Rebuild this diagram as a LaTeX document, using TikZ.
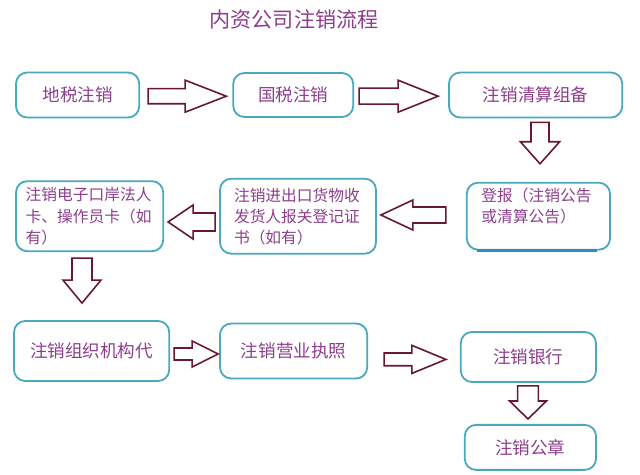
\documentclass[tikz,border=0pt]{standalone}
\usepackage{fontspec}
\newfontfamily\cjk{Noto Sans CJK SC}
\usetikzlibrary{calc}
\definecolor{boxline}{RGB}{72,168,188}
\definecolor{boxbar}{RGB}{45,140,192}
\definecolor{txt}{RGB}{140,62,140}
\definecolor{arrline}{RGB}{105,25,45}

\begin{document}
\begin{tikzpicture}[line width=0.45mm,
  box/.style={draw=boxline, rounded corners=0.28cm, text=txt, inner sep=0pt,
    font=\cjk\fontsize{12.5}{15}\selectfont},
  small/.style={font=\cjk\fontsize{11.2}{15}\selectfont, align=left},
  blockarrow/.style n args={3}{draw=arrline, line width=0.4mm, fill=white,
    to path={($(\tikztostart)!#1!-90:(\tikztotarget)$)
      -- ($(\tikztotarget)!#3!(\tikztostart)!#1!90:(\tikztostart)$)
      -- ($(\tikztotarget)!#3!(\tikztostart)!#2!90:(\tikztostart)$)
      -- (\tikztotarget)
      -- ($(\tikztotarget)!#3!(\tikztostart)!#2!-90:(\tikztostart)$)
      -- ($(\tikztotarget)!#3!(\tikztostart)!#1!-90:(\tikztostart)$)
      -- ($(\tikztostart)!#1!90:(\tikztotarget)$) -- cycle}}]
  \useasboundingbox (0,0) rectangle (16,11.875);
  % Title
  \node[text=txt, font=\cjk\fontsize{15}{18}\selectfont] (title) at (7.35,11.4) {内资公司注销流程};
  % First row: tax offices
  \node[box, minimum width=3.08cm, minimum height=1.125cm] (dishui) at (1.94,9.5) {地税注销};
  \node[box, minimum width=3.0cm, minimum height=1.1cm] (guoshui) at (7.33,9.5) {国税注销};
  \node[box, minimum width=4.33cm, minimum height=1.125cm] (qingsuan) at (13.39,9.5) {注销清算组备};
  % Second row: notice, customs, e-port
  \node[box, small, text width=2.85cm, minimum width=3.58cm, minimum height=1.675cm] (dengbao) at (13.46,6.47)
    {登报（注销公告\\或清算公告）\\~};
  \draw[boxbar, line width=0.8mm] ([xshift=0.28cm]dengbao.south west) -- ([xshift=-0.35cm]dengbao.south east);
  \node[box, small, text width=3.2cm, minimum width=3.9cm, minimum height=1.875cm] (haiguan) at (7.45,6.47)
    {注销进出口货物收\\发货人报关登记证\\书（如有）};
  \node[box, small, text width=3.2cm, minimum width=3.68cm, minimum height=1.75cm] (kouan) at (2.24,6.47)
    {注销电子口岸法人\\卡、操作员卡（如\\有）};
  % Third row: code, licence, bank, seal
  \node[box, minimum width=3.88cm, minimum height=1.5cm] (daima) at (2.29,3.1) {注销组织机构代};
  \node[box, minimum width=3.68cm, minimum height=1.375cm] (zhizhao) at (7.34,3.1) {注销营业执照};
  \node[box, minimum width=3.38cm, minimum height=1.25cm] (yinhang) at (13.21,2.95) {注销银行};
  \node[box, minimum width=3.28cm, minimum height=1.125cm] (gongzhang) at (13.26,0.69) {注销公章};
  % Block arrows
  \draw[blockarrow={0.19cm}{0.4cm}{1.03cm}] ([xshift=0.2cm,yshift=-0.03cm]dishui.east) to ([xshift=-0.15cm,yshift=-0.03cm]guoshui.west);
  \draw[blockarrow={0.2cm}{0.4cm}{1.0cm}] ([xshift=0.125cm,yshift=-0.03cm]guoshui.east) to ([xshift=-0.25cm,yshift=-0.03cm]qingsuan.west);
  \draw[blockarrow={0.225cm}{0.49cm}{0.55cm}] ([xshift=0.11cm,yshift=-0.1cm]qingsuan.south) to ([xshift=0.04cm,yshift=0.45cm]dengbao.north);
  \draw[blockarrow={0.2cm}{0.375cm}{0.8cm}] ([xshift=-0.5cm,yshift=0.03cm]dengbao.west) to ([xshift=0.1cm,yshift=0.03cm]haiguan.east);
  \draw[blockarrow={0.225cm}{0.425cm}{0.625cm}] ([xshift=-0.1cm,yshift=-0.145cm]haiguan.west) to ([xshift=0.1cm,yshift=-0.145cm]kouan.east);
  \draw[blockarrow={0.25cm}{0.475cm}{0.575cm}] ([xshift=-0.19cm,yshift=-0.15cm]kouan.south) to ([xshift=-0.24cm,yshift=0.425cm]daima.north);
  \draw[blockarrow={0.15cm}{0.325cm}{0.65cm}] ([xshift=0.1cm,yshift=-0.075cm]daima.east) to ([xshift=-0.025cm,yshift=-0.075cm]zhizhao.west);
  \draw[blockarrow={0.16cm}{0.35cm}{0.85cm}] ([xshift=0.4cm,yshift=-0.21cm]zhizhao.east) to ([xshift=-0.35cm,yshift=-0.06cm]yinhang.west);
  \draw[blockarrow={0.26cm}{0.46cm}{0.45cm}] ([xshift=-0.01cm,yshift=-0.075cm]yinhang.south) to ([xshift=-0.06cm,yshift=0.125cm]gongzhang.north);
\end{tikzpicture}
\end{document}
